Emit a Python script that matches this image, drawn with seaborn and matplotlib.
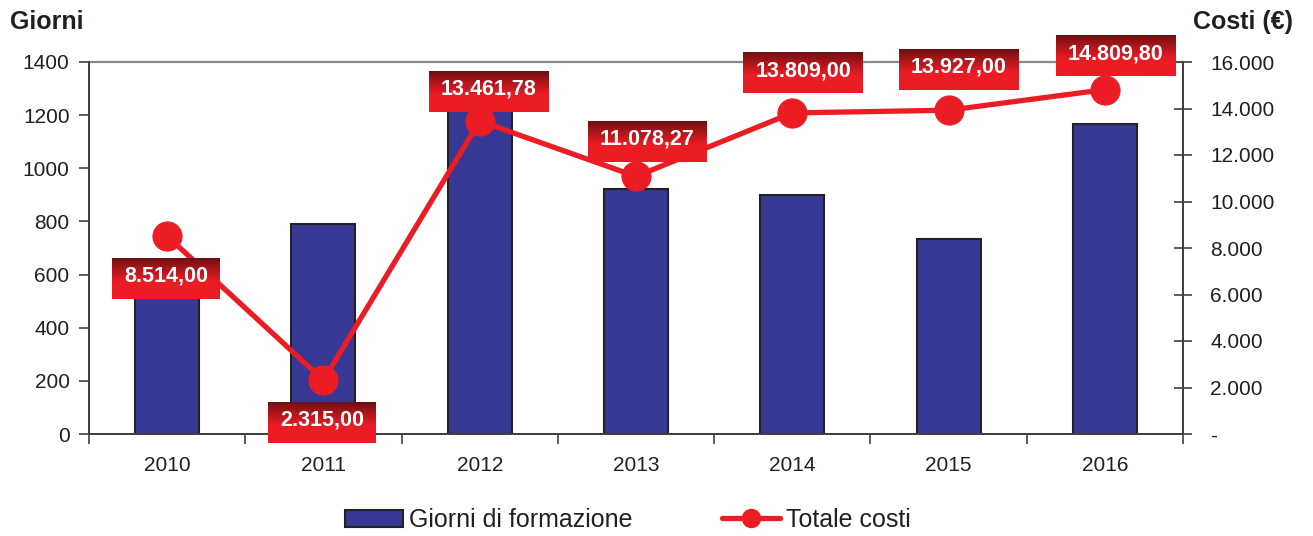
import numpy as np
import matplotlib
matplotlib.use("Agg")
import matplotlib.pyplot as plt
from matplotlib.patches import Patch
from matplotlib.lines import Line2D
from matplotlib.ticker import FuncFormatter, FixedLocator
import seaborn as sns

# Data
anni = ["2010", "2011", "2012", "2013", "2014", "2015", "2016"]
giorni = [590, 790, 1250, 922, 900, 734, 1167]
costi = [8514.00, 2315.00, 13461.78, 11078.27, 13809.00, 13927.00, 14809.80]
etichette_costi = ["8.514,00", "2.315,00", "13.461,78", "11.078,27",
                   "13.809,00", "13.927,00", "14.809,80"]

BLU = "#363893"
ROSSO = "#ec1c24"
ROSSO_SCURO = "#6d0f12"
TESTO = "#231f20"

sns.set_style("white")
plt.rcParams["font.family"] = ["Liberation Sans", "DejaVu Sans"]
plt.rcParams["text.color"] = TESTO

fig = plt.figure(figsize=(13.13, 5.36), dpi=100)
ax = fig.add_axes([89 / 1313, 1 - 434 / 536, (1183 - 89) / 1313, (434 - 62) / 536])

# Bars: training days
sns.barplot(x=anni, y=giorni, order=anni, color=BLU, saturation=1, width=0.41,
            edgecolor="#222222", linewidth=1.5, ax=ax, zorder=2)
ax.set_xlim(-0.5, len(anni) - 0.5)
ax.set_ylim(0, 1400)
ax.set_yticks(np.arange(0, 1401, 200))
ax.set_xlabel("")
ax.set_ylabel("")

# Category separators as ticks, labels centred between them
ax.xaxis.set_minor_locator(FixedLocator(np.arange(-0.5, len(anni), 1.0)))
ax.tick_params(axis="x", which="major", length=0, pad=16, labelsize=15, labelcolor=TESTO)
ax.tick_params(axis="x", which="minor", length=7, width=1.2, color="#404040",
               direction="out", bottom=True)
ax.tick_params(axis="y", length=7, width=1.2, color="#404040", direction="out",
               pad=7, labelsize=15, labelcolor=TESTO, left=True)

for s in ["left", "bottom", "right"]:
    ax.spines[s].set_color("#404040")
    ax.spines[s].set_linewidth(1.4)
ax.spines["top"].set_color("#8a8a8a")
ax.spines["top"].set_linewidth(1.6)

# Line: total costs on the secondary axis
ax2 = ax.twinx()
pos = np.arange(len(anni))
sns.lineplot(x=pos, y=costi, sort=False, color=ROSSO, linewidth=3.8, marker="o",
             markersize=21, markeredgecolor=ROSSO, markerfacecolor=ROSSO,
             ax=ax2, zorder=3)
ax2.set_ylim(0, 16000)
ax2.set_yticks(np.arange(0, 16001, 2000))
ax2.yaxis.set_major_formatter(FuncFormatter(
    lambda v, p: "-" if v == 0 else f"{v:,.0f}".replace(",", ".")))
ax2.tick_params(axis="y", direction="inout", length=13, width=1.2, color="#404040",
                pad=13, labelsize=15, labelcolor=TESTO, right=True)
ax2.set_xlabel("")
ax2.set_ylabel("")
for s in ["left", "bottom", "right"]:
    ax2.spines[s].set_color("#404040")
    ax2.spines[s].set_linewidth(1.4)
ax2.spines["top"].set_visible(False)
ax2.set_xlim(-0.5, len(anni) - 0.5)

# Value labels in gradient boxes
spost = [(-1, 42), (-1, 42), (9, -30), (11, -35), (11, -40), (10, -41), (11, -34)]
n = 100
t = np.clip(np.linspace(0, 1, n) / 0.58, 0, 1) ** 0.9
c0 = np.array(matplotlib.colors.to_rgb(ROSSO_SCURO))
c1 = np.array(matplotlib.colors.to_rgb(ROSSO))
grad = (c0[None, :] * (1 - t[:, None]) + c1[None, :] * t[:, None])[:, None, :]

fig.canvas.draw()
rend = fig.canvas.get_renderer()
inv = ax2.transData.inverted()
for i, (val, lab) in enumerate(zip(costi, etichette_costi)):
    px, py = ax2.transData.transform((i, val))
    dx, dy = spost[i]
    cx, cy = px + dx, py - dy
    tc = inv.transform((cx, cy + 2))
    txt = ax2.text(tc[0], tc[1], lab, ha="center", va="center", color="white",
                   fontsize=15.5, fontweight="bold", zorder=6, clip_on=False)
    w = txt.get_window_extent(rend).width + 24
    h = 41
    x0, y0 = inv.transform((cx - w / 2, cy - h / 2))
    x1, y1 = inv.transform((cx + w / 2, cy + h / 2))
    ax2.imshow(grad, extent=(x0, x1, y0, y1), aspect="auto", origin="upper",
               zorder=5, clip_on=False, interpolation="bilinear")

ax2.set_xlim(-0.5, len(anni) - 0.5)
ax2.set_ylim(0, 16000)

# Axis titles
fig.text(10 / 1313, 1 - 22 / 536, "Giorni", ha="left", va="center",
         fontsize=18, fontweight="bold", color=TESTO)
fig.text(1293 / 1313, 1 - 22 / 536, "Costi (€)", ha="right", va="center",
         fontsize=18, fontweight="bold", color=TESTO)

# Legend
handles = [Patch(facecolor=BLU, edgecolor="#222222", linewidth=1.5),
           Line2D([0], [0], color=ROSSO, linewidth=3.8, marker="o",
                  markersize=13, markerfacecolor=ROSSO, markeredgecolor=ROSSO)]
fig.legend(handles, ["Giorni di formazione", "Totale costi"], loc="center",
           bbox_to_anchor=(628 / 1313, 1 - 520 / 536), ncol=2, frameon=False,
           fontsize=18, handlelength=2.3, handleheight=0.65, handletextpad=0.25,
           columnspacing=3.6, borderaxespad=0)

fig.savefig("out.png", dpi=100)
